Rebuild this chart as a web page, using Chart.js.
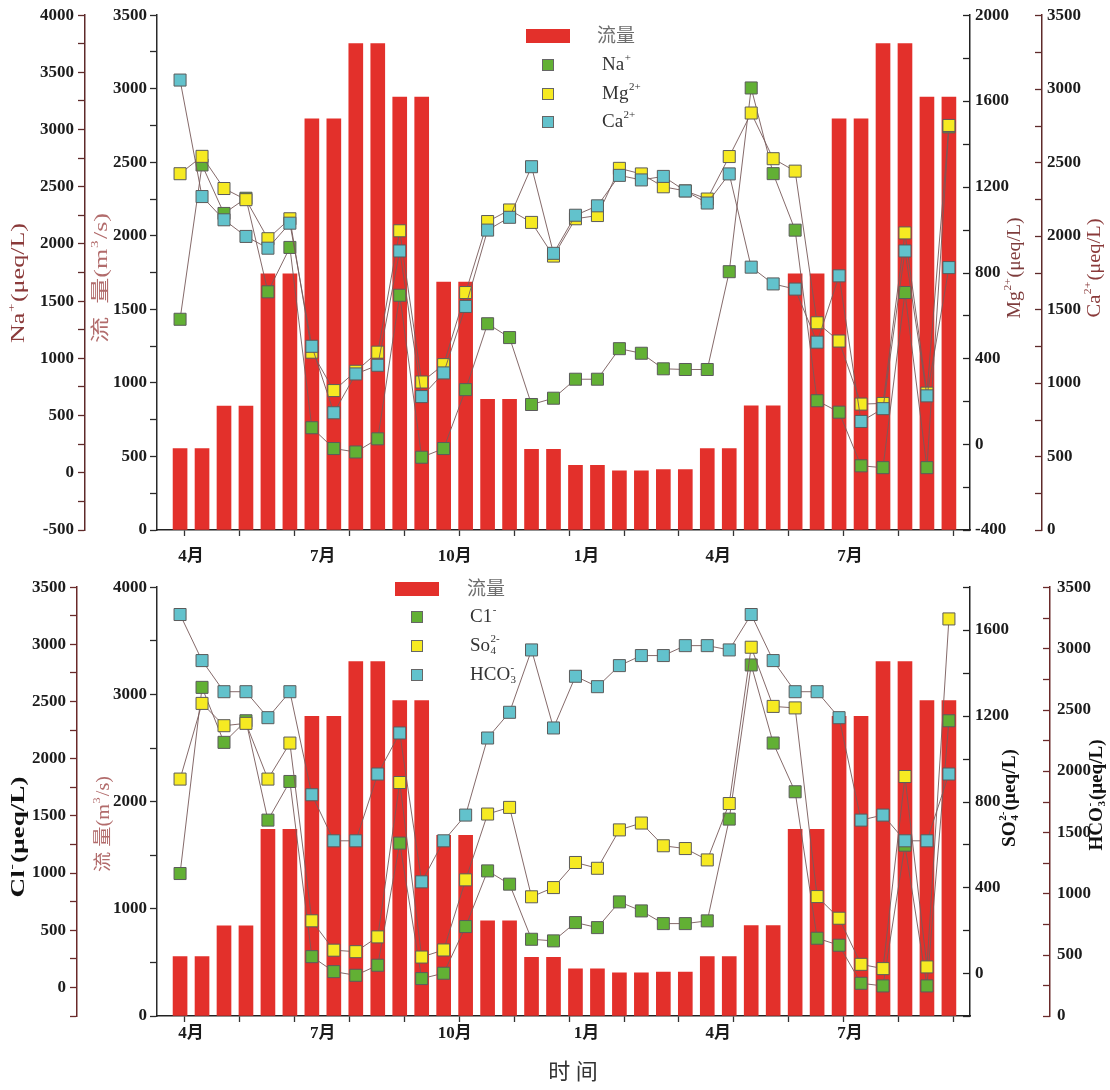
<!DOCTYPE html>
<html><head><meta charset="utf-8">
<script src="https://cdn.jsdelivr.net/npm/chart.js@4.4.1/dist/chart.umd.min.js"></script>
<style>
html,body{margin:0;padding:0;background:#fff;}
#wrap{position:relative;width:1110px;height:1090px;background:#fff;}
#c1{position:absolute;left:0;top:0;}
#c2{position:absolute;left:0;top:570px;}
</style></head><body>
<div id="wrap"><canvas id="c1" width="1110" height="570"></canvas><canvas id="c2" width="1110" height="520"></canvas></div>
<script>
// ---- categories: two samples per month, April (yr 1) to September (yr 2)
const sampleMonths = ['4月','4月','5月','5月','6月','6月','7月','7月','8月','8月','9月','9月','10月','10月','11月','11月','12月','12月','1月','1月','2月','2月','3月','3月','4月','4月','5月','5月','6月','6月','7月','7月','8月','8月','9月','9月'];
const sampleX = [0,1,2,3,4,5,6,7,8,9,10,11,12,13,14,15,16,17,18,19,20,21,22,23,24,25,26,27,28,29,30,31,32,33,34,35];
// ---- x tick labels / tick marks (in sample units)
const monthTickLabels = ['4月','7月','10月','1月','4月','7月'];
const monthTickPos = [0.5,6.5,12.5,18.5,24.5,30.5];
const minorTickPos = [1.46,3.96,6.46,8.96,11.46,13.96,16.46,18.96,21.46,23.96,26.46,28.96,31.46,33.96];
// ---- flow (m3/s)
const flow = [554,554,842,842,1741,1741,2795,2795,3307,3307,2943,2943,1685,1685,888,888,548,548,440,440,403,403,410,410,554,554,844,844,1741,1741,2795,2795,3307,3307,2943,2943];
// ---- cations (μeq/L)
const na = [1342,2691,2267,2400,1582,1970,394,212,182,297,1552,136,212,727,1303,1182,597,652,818,818,1085,1045,909,903,903,1758,3364,2615,2121,630,530,61,45,1576,45,3024];
const mg = [1261,1342,1192,1140,958,1051,429,250,340,429,995,290,371,707,1038,1092,1034,877,1051,1066,1286,1260,1200,1181,1143,1341,1544,1331,1273,566,481,187,190,985,238,1486];
const ca = [3059,2267,2109,1996,1916,2086,1249,797,1061,1120,1897,907,1068,1520,2039,2126,2470,1881,2140,2204,2411,2380,2404,2305,2223,2421,1787,1673,1638,1277,1728,738,825,1897,912,1784];
// ---- anions (μeq/L)
const cl = [996,2624,2143,2332,1463,1801,269,138,106,194,1262,77,124,532,1019,903,421,407,567,523,748,669,558,558,582,1472,2820,2137,1711,430,369,36,13,1244,13,2332];
const so4 = [905,1258,1154,1165,905,1073,244,107,100,169,889,75,108,435,742,773,356,399,516,489,668,700,594,581,528,791,1520,1244,1237,357,256,41,21,917,29,1652];
const hco3 = [3277,2901,2647,2647,2435,2647,1806,1430,1430,1975,2310,1095,1430,1640,2269,2479,2988,2351,2773,2688,2860,2942,2942,3023,3023,2988,3277,2901,2647,2647,2435,1599,1640,1430,1430,1975];

const BAR = '#e3302b', GREEN = '#62b034', YELLOW = '#f6ea22', CYAN = '#62c2cc';
const FAM = "'Liberation Serif','Noto Sans CJK SC',serif";
const TICK_FONT = {family: FAM, size: 17, weight: 'bold'};
const XMIN = -1.05, XMAX = 35.96;

function pts(vals){ return vals.map((v,i)=>({x: sampleX[i], y: v})); }
function lineDs(label, vals, color, axis, order){
  return {type:'line', label, data: pts(vals), yAxisID: axis, order,
    borderColor:'rgba(120,90,90,0.9)', borderWidth:1, tension:0, fill:false,
    pointStyle:'rect', pointRadius:8.5, pointHoverRadius:8.5, pointBorderWidth:1,
    pointBorderColor:'#5b5b5b', pointBackgroundColor: color, clip:false};
}
function barDs(vals){
  return {type:'bar', label:'流量', data: pts(vals), yAxisID:'yFlow', order: 10,
    backgroundColor: BAR, borderWidth:0, barThickness:14};
}
function yAxis(o){
  return {type:'linear', position:o.pos, min:o.min, max:o.max, weight:o.weight,
    afterFit: s => { s.width = o.width; },
    border:{display:true, color:o.color, width:1.5},
    grid:{display:true, drawOnChartArea:false, drawTicks: o.pos==='left', tickLength:7, tickColor:o.color, tickWidth:1.3},
    ticks:{stepSize:o.step, autoSkip:false, padding:o.pad, color:'#1c1c1c', font:TICK_FONT,
      callback: v => (Math.abs(v % o.every) < 1e-6 ? String(v) : '')}};
}
function xAxes(labelH, labelPad){
  return {
    xt: {type:'linear', position:'bottom', min:XMIN, max:XMAX, weight:0, offset:false,
      afterBuildTicks: s => { s.ticks = minorTickPos.map(v=>({value:v})); },
      afterFit: s => { s.height = 7; },
      grid:{display:true, drawOnChartArea:false, drawTicks:true, tickLength:6, tickColor:'#333', tickWidth:1.3},
      border:{display:true, color:'#222', width:1.5},
      ticks:{display:false}},
    x: {type:'linear', position:'bottom', min:XMIN, max:XMAX, weight:1, offset:false,
      afterBuildTicks: s => { s.ticks = monthTickPos.map(v=>({value:v})); },
      afterFit: s => { s.height = labelH; },
      grid:{display:false, drawTicks:false, offset:false}, border:{display:false},
      ticks:{autoSkip:false, maxRotation:0, minRotation:0, padding:labelPad, color:'#1c1c1c', font:TICK_FONT,
        callback: (v,i) => monthTickLabels[i]}}
  };
}

function drawText(ctx, it){
  const size = it.size, weight = it.weight || 'normal';
  const big = `${weight} ${size}px ${FAM}`, small = `${weight} ${Math.round(size*0.6)}px ${FAM}`;
  let w = 0;
  const segs = it.parts.map(p => {
    const q = (typeof p === 'string') ? {t:p, k:'n'} : Object.assign({}, p);
    ctx.font = q.k==='n' ? big : small;
    const a = ctx.measureText(q.t).width, b = q.t2 ? ctx.measureText(q.t2).width : 0;
    q.w = Math.max(a,b) + (q.k==='n' ? 0 : 1.5);
    w += q.w; return q;
  });
  const sx = it.len ? it.len / w : 1;
  ctx.save();
  ctx.translate(it.x, it.y);
  if (it.rot) ctx.rotate(-Math.PI/2);
  ctx.scale(sx, 1);
  let x = it.align === 'left' ? 0 : -w/2;
  ctx.fillStyle = it.color; ctx.textBaseline = 'middle'; ctx.textAlign = 'left';
  for (const q of segs){
    if (q.k === 'n'){ ctx.font = big; ctx.fillText(q.t, x, 0); }
    else {
      ctx.font = small;
      if (q.k === 'sup') ctx.fillText(q.t, x+0.5, -size*0.36);
      else if (q.k === 'sub') ctx.fillText(q.t, x+0.5, size*0.26);
      else { ctx.fillText(q.t, x+0.5, size*0.26); ctx.fillText(q.t2, x+0.5, -size*0.38); }
    }
    x += q.w;
  }
  ctx.restore();
}

function decoPlugin(id, cfg){
  return {id, afterDraw(chart){
    const ctx = chart.ctx;
    ctx.save();
    for (const r of cfg.inTicks){
      const s = chart.scales[r.id];
      ctx.strokeStyle = r.color; ctx.lineWidth = 1.3;
      for (const t of s.ticks){
        const y = Math.round(s.getPixelForValue(t.value)) + 0.5;
        ctx.beginPath(); ctx.moveTo(s.left - 7, y); ctx.lineTo(s.left, y); ctx.stroke();
      }
    }
    const L = cfg.legend;
    ctx.fillStyle = BAR; ctx.fillRect(L.rect[0], L.rect[1], L.rect[2], L.rect[3]);
    drawText(ctx, {x:L.flowLabel[0], y:L.flowLabel[1], size:19, color:'#6e6e6e', align:'left', parts:['流量']});
    for (const m of L.markers){
      ctx.fillStyle = m.color; ctx.fillRect(m.x-6, m.y-6, 12, 12);
      ctx.strokeStyle = '#666'; ctx.lineWidth = 1; ctx.strokeRect(m.x-6+0.5, m.y-6+0.5, 11, 11);
      drawText(ctx, {x:L.textX, y:m.y, size:19, color:'#333', align:'left', parts:m.parts});
    }
    for (const it of cfg.texts) drawText(ctx, it);
    ctx.restore();
  }};
}

const common = {responsive:false, animation:false, events:[], devicePixelRatio:1,
  plugins:{legend:{display:false}, tooltip:{enabled:false}}};

// ---------------- top chart
new Chart(document.getElementById('c1'), {
  type:'bar',
  data:{datasets:[
    lineDs('Ca²⁺', ca, CYAN, 'yCa', 1),
    lineDs('Mg²⁺', mg, YELLOW, 'yMg', 2),
    lineDs('Na⁺', na, GREEN, 'yNa', 3),
    barDs(flow)
  ]},
  options:Object.assign({}, common, {
    layout:{padding:{top:15, left:0, right:0, bottom:0}},
    scales:Object.assign({
      yNa: yAxis({pos:'left', min:-500, max:4000, step:250, every:500, width:85, weight:1, color:'#5e2a2a', pad:4}),
      yFlow: yAxis({pos:'left', min:0, max:3500, step:250, every:500, width:72, weight:0, color:'#2a2a2a', pad:3}),
      yMg: yAxis({pos:'right', min:-400, max:2000, step:200, every:400, width:72, weight:0, color:'#222', pad:5}),
      yCa: yAxis({pos:'right', min:0, max:3500, step:250, every:500, width:68, weight:1, color:'#5e2a2a', pad:5})
    }, xAxes(33, 9))
  }),
  plugins:[decoPlugin('deco1', {
    inTicks:[{id:'yMg', color:'#222'}, {id:'yCa', color:'#5e2a2a'}],
    legend:{rect:[526,29,44,14], flowLabel:[597,37], textX:602, markers:[
      {x:548, y:65, color:GREEN, parts:['Na',{t:'+',k:'sup'}]},
      {x:548, y:94, color:YELLOW, parts:['Mg',{t:'2+',k:'sup'}]},
      {x:548, y:122, color:CYAN, parts:['Ca',{t:'2+',k:'sup'}]}]},
    texts:[
      {x:19, y:283, rot:true, len:120, size:19, color:'#8a3a3a', parts:['Na',{t:'+',k:'sup'},'(μeq/L)']},
      {x:102, y:278, rot:true, len:130, size:19, color:'#b26c6c', parts:['流  量(m',{t:'3',k:'sup'},'/s)']},
      {x:1015, y:268, rot:true, len:101, size:19, color:'#7e3c3c', parts:['Mg',{t:'2+',k:'sup'},'(μeq/L)']},
      {x:1095, y:268, rot:true, len:99, size:19, color:'#8a3a3a', parts:['Ca',{t:'2+',k:'sup'},'(μeq/L)']}
    ]})]
});

// ---------------- bottom chart
new Chart(document.getElementById('c2'), {
  type:'bar',
  data:{datasets:[
    lineDs('HCO₃⁻', hco3, CYAN, 'yHCO3', 1),
    lineDs('SO₄²⁻', so4, YELLOW, 'ySO4', 2),
    lineDs('Cl⁻', cl, GREEN, 'yCl', 3),
    barDs(flow)
  ]},
  options:Object.assign({}, common, {
    layout:{padding:{top:16, left:0, right:0, bottom:0}},
    scales:Object.assign({
      yCl: yAxis({pos:'left', min:-250, max:3500, step:250, every:500, width:77, weight:1, color:'#6a2a2a', pad:4}),
      yFlow: yAxis({pos:'left', min:0, max:4000, step:500, every:1000, width:80, weight:0, color:'#2a2a2a', pad:3}),
      ySO4: yAxis({pos:'right', min:-200, max:1800, step:200, every:400, width:80, weight:0, color:'#222', pad:5}),
      yHCO3: yAxis({pos:'right', min:0, max:3500, step:250, every:500, width:60, weight:1, color:'#6a2a2a', pad:7})
    }, xAxes(67, 0))
  }),
  plugins:[decoPlugin('deco2', {
    inTicks:[{id:'ySO4', color:'#222'}, {id:'yHCO3', color:'#6a2a2a'}],
    legend:{rect:[395,12,44,14], flowLabel:[467,20], textX:470, markers:[
      {x:417, y:47, color:GREEN, parts:['C1',{t:'-',k:'sup'}]},
      {x:417, y:76, color:YELLOW, parts:['So',{t:'4',t2:'2-',k:'ss'}]},
      {x:417, y:105, color:CYAN, parts:['HCO',{t:'3',t2:'-',k:'ss'}]}]},
    texts:[
      {x:19, y:267, rot:true, len:121, size:19, weight:'bold', color:'#111', parts:['Cl',{t:'-',k:'sup'},'(μeq/L)']},
      {x:104, y:254, rot:true, len:96, size:18, color:'#b26c6c', parts:['流 量(m',{t:'3',k:'sup'},'/s)']},
      {x:1010, y:228, rot:true, len:98, size:19, weight:'bold', color:'#111', parts:['SO',{t:'4',t2:'2-',k:'ss'},'(μeq/L)']},
      {x:1097, y:225, rot:true, len:111, size:19, weight:'bold', color:'#111', parts:['HCO',{t:'3',t2:'-',k:'ss'},'(μeq/L)']},
      {x:573, y:503, size:22, color:'#333', parts:['时 间']}
    ]})]
});
</script>
</body></html>
